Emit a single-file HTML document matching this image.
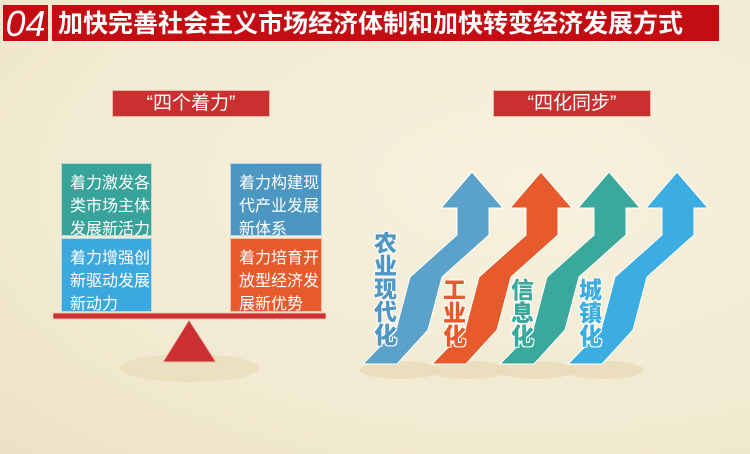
<!DOCTYPE html>
<html><head><meta charset="utf-8"><style>
body{margin:0;width:750px;height:454px;overflow:hidden;background:#f4edd8;font-family:"Liberation Sans","Noto Sans CJK SC",sans-serif;position:relative}
.a{position:absolute}
.box{position:absolute;color:#fff;font-size:16px;line-height:23px;padding:8px 0 0 8px;box-sizing:border-box;border:1px solid rgba(255,255,255,.6);white-space:nowrap}
.lbl{position:absolute;background:#c9302f;color:#fff;font-size:19px;text-align:center;line-height:25px;height:25px;width:156px;border:1px solid #e8b8a8}
.vt{position:absolute;font-family:"Noto Sans CJK SC",sans-serif;font-weight:900;font-size:23px;line-height:23px;width:26px;text-shadow:1px 1px 0 #fff,-1px -1px 0 #fff,1px -1px 0 #fff,-1px 1px 0 #fff}
</style></head><body>
<div class="a" style="left:0;top:0;width:750px;height:454px;background:radial-gradient(ellipse at 70% 40%,#f7f1de 0%,#f1e9d0 70%,#ece2c6 100%)"></div>
<div class="a" style="left:2px;top:4px;width:47px;height:38px;background:#c40d12;border:1px solid #f5e6d0;box-sizing:border-box;color:#fff;font-size:36px;font-style:italic;line-height:38px;text-align:center">04</div>
<div class="a" style="left:51px;top:4px;width:669px;height:38px;background:#c40d12;color:#fff;font-size:25px;font-weight:bold;line-height:38px;padding-left:6px;box-sizing:border-box;border:1px solid #f5e6d0">加快完善社会主义市场经济体制和加快转变经济发展方式</div>
<div class="lbl" style="left:112px;top:90px">“四个着力”</div>
<div class="lbl" style="left:493px;top:90px">“四化同步”</div>
<div class="box" style="left:61px;top:163px;width:91px;height:73px;background:#37a39a">着力激发各<br>类市场主体<br>发展新活力</div>
<div class="box" style="left:61px;top:238px;width:91px;height:74px;background:#3ba9dd">着力增强创<br>新驱动发展<br>新动力</div>
<div class="box" style="left:230px;top:163px;width:92px;height:73px;background:#4b97c2">着力构建现<br>代产业发展<br>新体系</div>
<div class="box" style="left:230px;top:238px;width:92px;height:74px;background:#e65a2c">着力培育开<br>放型经济发<br>展新优势</div>
<svg class="a" style="left:0;top:0" width="750" height="454">
<ellipse cx="189" cy="368" rx="70" ry="14" fill="#e8dbb8" opacity=".7"/>
<rect x="53" y="313" width="273" height="6" fill="#c9302f" stroke="#f0c0b0" stroke-width="1"/>
<polygon points="189,320 163,362 216,362" fill="#c9302f" stroke="#f0c0b0"/>
<ellipse cx="400" cy="370" rx="40" ry="9" fill="#e8dbb8" opacity=".8"/>
<ellipse cx="468" cy="370" rx="40" ry="9" fill="#e8dbb8" opacity=".8"/>
<ellipse cx="536" cy="370" rx="40" ry="9" fill="#e8dbb8" opacity=".8"/>
<ellipse cx="604" cy="370" rx="40" ry="9" fill="#e8dbb8" opacity=".8"/>
<polygon points="363,364 396,330 410,277 457,235 457,208 441,208 472,172 503,208 489,208 489,235 442,277 428,330 397,364" fill="#5aa2c9" stroke="#fff" stroke-width="1"/>
<polygon transform="translate(69,0)" points="363,364 396,330 410,277 457,235 457,208 441,208 472,172 503,208 489,208 489,235 442,277 428,330 397,364" fill="#e65a2c" stroke="#fff" stroke-width="1"/>
<polygon transform="translate(137,0)" points="363,364 396,330 410,277 457,235 457,208 441,208 472,172 503,208 489,208 489,235 442,277 428,330 397,364" fill="#3aa89b" stroke="#fff" stroke-width="1"/>
<polygon transform="translate(205,0)" points="363,364 396,330 410,277 457,235 457,208 441,208 472,172 503,208 489,208 489,235 442,277 428,330 397,364" fill="#3cade0" stroke="#fff" stroke-width="1"/>
</svg>
<div class="vt" style="left:374px;top:230px;color:#4f98c4">农业现代化</div>
<div class="vt" style="left:443px;top:277px;color:#e65a2c">工业化</div>
<div class="vt" style="left:511px;top:277px;color:#3aa89b">信息化</div>
<div class="vt" style="left:579px;top:277px;color:#3cade0">城镇化</div>
</body></html>
